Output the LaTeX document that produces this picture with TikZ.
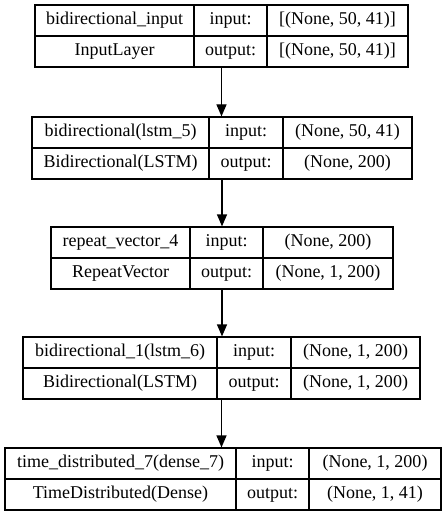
\documentclass[tikz,border=0pt]{standalone}
\usepackage{fontspec}
\setmainfont{Liberation Serif}
\usetikzlibrary{arrows.meta}
\tikzset{
  kbox/.style={draw=black, line width=1.2pt, inner sep=0pt, minimum height=62pt, fill=white},
  kline/.style={draw=black, line width=1.2pt},
  ktext/.style={inner sep=0pt, text height=12.5pt, text depth=4pt, font=\fontsize{18}{20}\selectfont},
  karrow/.style={draw=black, line width=1.2pt, -{Triangle[width=10pt,length=12pt]}}
}
\newcommand\kbox[7]{% name, L, R, T, D1, D2, width
  \gdef\kL{#2}\gdef\kR{#3}\gdef\kT{#4}\gdef\kA{#5}\gdef\kB{#6}%
  \node[kbox, minimum width=#7pt] (#1) at ({(#2+#3)/2},{#4+31}) {};
  \draw[kline] (#1.west) -- (#1.east);
  \draw[kline] (#5,#4) -- (#5,#4+62);
  \draw[kline] (#6,#4) -- (#6,#4+62);
}
\newcommand\kcells[5]{% name, a, b, c, d
  \node[ktext] (#1-a) at ({(\kL+\kA)/2},{\kT+15.5}) {#2};
  \node[ktext] (#1-b) at ({(\kL+\kA)/2},{\kT+46.5}) {#3};
  \node[ktext] (#1-in) at ({(\kA+\kB)/2},{\kT+15.5}) {input:};
  \node[ktext] (#1-out) at ({(\kA+\kB)/2},{\kT+46.5}) {output:};
  \node[ktext] (#1-c) at ({(\kB+\kR)/2},{\kT+15.5}) {#4};
  \node[ktext] (#1-d) at ({(\kB+\kR)/2},{\kT+46.5}) {#5};
}
\begin{document}
\begin{tikzpicture}[x=1pt,y=-1pt]
\useasboundingbox[fill=white] (0,0) rectangle (444,516);

\kbox{b1}{35}{408}{5}{194}{267}{373}
\kcells{b1}{bidirectional\_input}{InputLayer}{[(None, 50, 41)]}{[(None, 50, 41)]}

\kbox{b2}{32}{412}{117}{209}{283}{380}
\kcells{b2}{bidirectional(lstm\_5)}{Bidirectional(LSTM)}{(None, 50, 41)}{(None, 200)}

\kbox{b3}{51}{393}{227}{190}{263}{342}
\kcells{b3}{repeat\_vector\_4}{RepeatVector}{(None, 200)}{(None, 1, 200)}

\kbox{b4}{23}{420}{337}{217}{291}{397}
\kcells{b4}{bidirectional\_1(lstm\_6)}{Bidirectional(LSTM)}{(None, 1, 200)}{(None, 1, 200)}

\kbox{b5}{5}{441}{448}{236}{309}{436}
\kcells{b5}{time\_distributed\_7(dense\_7)}{TimeDistributed(Dense)}{(None, 1, 200)}{(None, 1, 41)}

\draw[karrow] (b1.south) -- (b1.south |- b2.north);
\draw[karrow] (b2.south) -- (b2.south |- b3.north);
\draw[karrow] (b3.south) -- (b3.south |- b4.north);
\draw[karrow] (b4.south) -- (b4.south |- b5.north);
\end{tikzpicture}
\end{document}
